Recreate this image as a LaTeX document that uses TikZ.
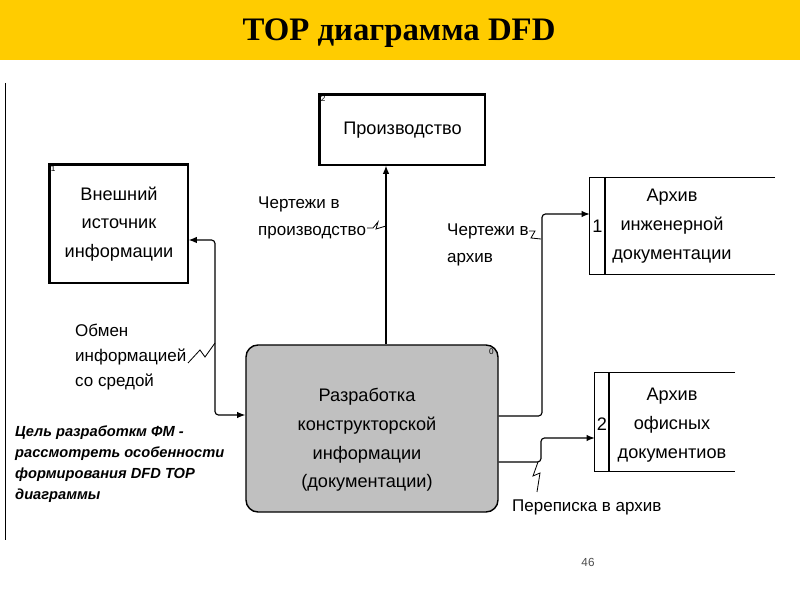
\documentclass[tikz,border=0pt]{standalone}
\usepackage{fontspec}
\setmainfont{Liberation Sans}
\newfontfamily\titlefont{Liberation Serif}
\usetikzlibrary{arrows.meta}
\definecolor{banner}{HTML}{FFCC00}
\definecolor{procgray}{HTML}{C0C0C0}
\begin{document}
\begin{tikzpicture}[x=0.03cm,y=-0.03cm,
  boxtext/.style={font=\fontsize{15.5}{24.5}\selectfont, align=center, inner sep=0},
  entity/.style={draw, line width=1pt, inner sep=0, font=\fontsize{15.5}{24.5}\selectfont, align=center},
  thickedge/.style={line width=3pt},
  store/.style={inner sep=0},
  storeline/.style={line width=1pt},
  proc/.style={draw, line width=1.2pt, fill=procgray, rounded corners=0.36cm, inner sep=0},
  smallnum/.style={font=\fontsize{7}{8}\selectfont, inner sep=1pt},
  bignum/.style={font=\fontsize{15.5}{18}\selectfont, inner sep=0},
  lbl/.style={font=\fontsize{14.5}{23}\selectfont, align=left, anchor=west, inner sep=0},
  flow/.style={line width=1pt, -{Latex[length=7pt,width=5.5pt]}},
  flow2/.style={line width=1pt, {Latex[length=7pt,width=5.5pt]}-{Latex[length=7pt,width=5.5pt]}},
  squig/.style={line width=0.7pt}
]
\useasboundingbox (0,0) rectangle (800,600);
\fill[banner] (0,0) rectangle (800,60);
\node (title) at (399,33) {\titlefont\bfseries\fontsize{28}{32}\selectfont TOP диаграмма DFD};

% left margin line
\draw[line width=0.8pt] (5,83) coordinate (ltop) -- (5,540) coordinate (lbot);

% external entity 1
\node[entity, minimum width=4.14cm, minimum height=3.54cm] (e1) at (119,224) {Внешний\\источник\\информации};
\draw[thickedge] (e1.south west) -- (e1.north west) -- (e1.north east);
\node[smallnum, anchor=north west] (n1) at (e1.north west) {1};

% external entity 2
\node[entity, minimum width=4.95cm, minimum height=2.1cm] (e2) at (402.5,130) {Производство};
\draw[thickedge] (e2.south west) -- (e2.north west) -- (e2.north east);
\node[smallnum, anchor=north west] (n2) at (e2.north west) {2};

% process 0
\node[proc, minimum width=7.56cm, minimum height=5.01cm] (p) at (372,428.5) {};
\node[boxtext] (ptext) at (367,440) {Разработка\\конструкторской\\информации\\(документации)};
\node[smallnum, anchor=north east] (n0) at ([xshift=-3pt,yshift=-3pt]p.north east) {0};

% data store 1
\node[store, minimum width=5.55cm, minimum height=2.88cm] (s1) at (682.5,226) {};
\draw[storeline] (s1.north east) -- (s1.north west) -- (s1.south west) -- (s1.south east);
\draw[storeline] (605,178) coordinate (s1a) -- (605,274) coordinate (s1b);
\node[bignum] (s1n) at (597.5,226) {1};
\node[boxtext] (s1t) at (672,226) {Архив\\инженерной\\документации};

% data store 2
\node[store, minimum width=4.2cm, minimum height=2.94cm] (s2) at (665,422) {};
\draw[storeline] (s2.north east) -- (s2.north west) -- (s2.south west) -- (s2.south east);
\draw[storeline] (609,373) coordinate (s2a) -- (609,471) coordinate (s2b);
\node[bignum] (s2n) at (602,424) {2};
\node[boxtext] (s2t) at (672,425) {Архив\\офисных\\документиов};

% helper coordinates
\coordinate (xprod) at (386,0);
\coordinate (xbus) at (215,0);
\coordinate (yex) at (0,240);
\coordinate (yin) at (0,415);
\coordinate (yo1) at (0,416);
\coordinate (ya1) at (0,214);
\coordinate (yo2) at (0,462);
\coordinate (ya2) at (0,438);
\coordinate (b1) at (542,214);
\coordinate (b2) at (541,438);

% flows
\draw[flow] (p.north -| xprod) -- (e2.south -| xprod);
\draw[flow2, rounded corners=3pt] (e1.east |- yex) -| (xbus |- yin) -- (p.west |- yin);
\draw[flow, rounded corners=3pt] (p.east |- yo1) -| (b1) -- (s1.west |- ya1);
\draw[flow, rounded corners=3pt] (p.east |- yo2) -| (b2) -- (s2.west |- ya2);

% labels
\node[lbl] (l1) at (258,218) {Чертежи в\\производство};
\node[lbl] (l2) at (447,245) {Чертежи в\\архив};
\node[lbl, font=\fontsize{14.5}{21}\selectfont] (l3) at (75,357) {Обмен\\информацией\\со средой};
\node[lbl] (l4) at (512,507) {Переписка в архив};

% squiggles
\draw[squig] (367,228) -- (373,228) -- (378,222) -- (376,229) -- (386,226);
\draw[squig] (529,231) -- (535,231) -- (531,238) -- (541,239);
\draw[squig] (188,363) -- (200,350) -- (205,357) -- (215,343);
\draw[squig] (538,462) -- (533,476) -- (540,473) -- (537,492);

% goal text
\node[anchor=west, align=left, inner sep=0, font=\fontsize{12.5}{17.8}\selectfont\bfseries\itshape] (goal) at (15,464)
  {Цель разработкм ФМ -\\рассмотреть особенности\\формирования DFD TOP\\диаграммы};

% page number
\node[font=\fontsize{10}{12}\selectfont, text=black!70] (pg) at (588,562) {46};
\end{tikzpicture}
\end{document}
